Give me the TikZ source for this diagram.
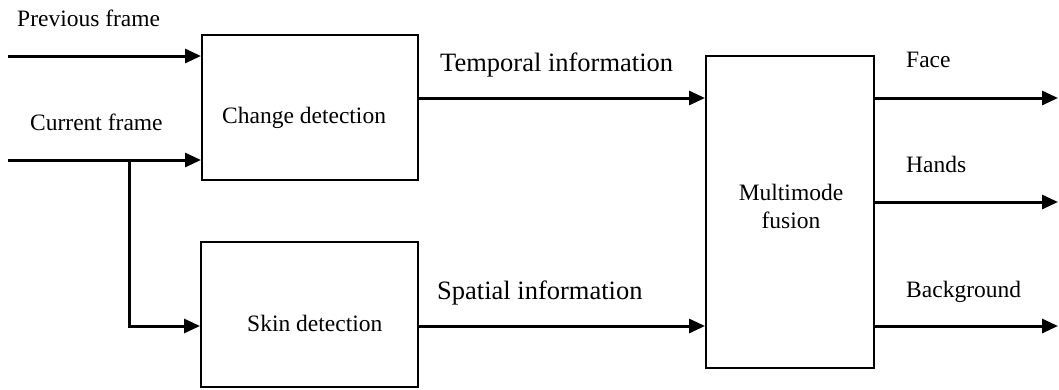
\documentclass[tikz,border=0pt]{standalone}
\usepackage{fontspec}
\setmainfont{Liberation Serif}
\usetikzlibrary{arrows.meta}
\begin{document}
\begin{tikzpicture}[x=1pt,y=-1pt,
  blk/.style={draw=black,line width=2pt,inner sep=0pt},
  arr/.style={line width=3pt,-{Triangle[length=16pt,width=14pt]}},
  lbl/.style={anchor=base west,inner sep=0pt,font=\fontsize{23.5}{28}\selectfont},
  biglbl/.style={anchor=base west,inner sep=0pt,font=\fontsize{26.5}{30}\selectfont}]
\useasboundingbox (0,0) rectangle (1059,389);
% boxes
\node[blk,minimum width=216pt,minimum height=145pt] (chg) at (310,107.5) {};
\node[blk,minimum width=217pt,minimum height=145pt] (skin) at (309.5,314.5) {};
\node[blk,minimum width=168pt,minimum height=312pt] (mm) at (790,212) {};
% box texts
\node[lbl] (tchg) at (222,123) {Change detection};
\node[lbl] (tskin) at (247,331.5) {Skin detection};
\node[anchor=base,inner sep=0pt,font=\fontsize{23.5}{28}\selectfont] (tmm1) at (791,200) {Multimode};
\node[anchor=base,inner sep=0pt,font=\fontsize{23.5}{28}\selectfont] (tmm2) at (791,228) {fusion};
% inputs
\coordinate (pin) at (8,56);
\coordinate (cin) at (8,160);
\coordinate (br) at (129,160);
\coordinate (sk) at (129,326);
\node[lbl] (lprev) at (17,26) {Previous frame};
\node[lbl] (lcur) at (30,130) {Current frame};
\draw[arr] (pin) -- (pin -| chg.west);
\draw[arr] (cin) -- (cin -| chg.west);
\draw[arr] (br) -- (sk) -- (sk -| skin.west);
% middle
\coordinate (ty) at (0,98);
\coordinate (sy) at (0,326);
\coordinate (hy) at (0,202);
\coordinate (xend) at (1058,0);
\draw[arr] (ty -| chg.east) -- (ty -| mm.west);
\draw[arr] (sy -| skin.east) -- (sy -| mm.west);
\node[biglbl] (ltemp) at (440,71.5) {Temporal information};
\node[biglbl] (lspat) at (437,299) {Spatial information};
% outputs
\draw[arr] (ty -| mm.east) -- (ty -| xend);
\draw[arr] (hy -| mm.east) -- (hy -| xend);
\draw[arr] (sy -| mm.east) -- (sy -| xend);
\node[lbl] (lface) at (906,67) {Face};
\node[lbl] (lhands) at (906,172) {Hands};
\node[lbl] (lbg) at (906,297) {Background};
\end{tikzpicture}
\end{document}
